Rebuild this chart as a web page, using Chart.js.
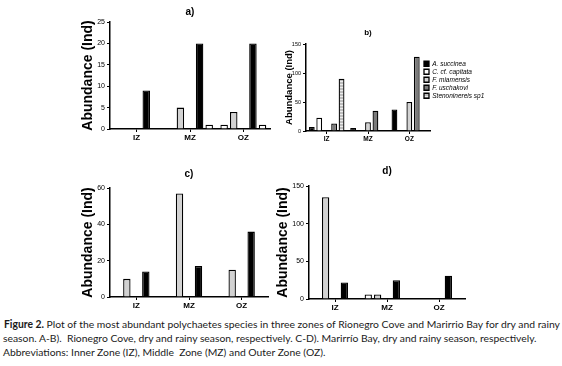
<!DOCTYPE html>
<html>
<head>
<meta charset="utf-8">
<script src="https://cdn.jsdelivr.net/npm/chart.js@4"></script>
<style>
  body { margin: 0; background: #fff; }
  #fig { position: relative; width: 562px; height: 366px; overflow: hidden; background: #fff; }
  #fig canvas { position: absolute; }
  .cap { position: absolute; left: 3px; font-family: Lato, sans-serif; font-size: 10.35px; line-height: 14px; white-space: pre; color: #1a1a1a; }
</style>
</head>
<body>
<div id="fig">
  <canvas id="chartA" width="240" height="150" style="left:40px;top:0px"></canvas>
  <canvas id="chartB" width="270" height="150" style="left:240px;top:0px"></canvas>
  <canvas id="chartC" width="240" height="165" style="left:40px;top:150px"></canvas>
  <canvas id="chartD" width="240" height="165" style="left:240px;top:150px"></canvas>
  <div class="cap" style="top:317px;left:4px"><b>Figure 2.</b> Plot of the most abundant polychaetes species in three zones of Rionegro Cove and Marirrio Bay for dry and rainy</div>
  <div class="cap" style="top:331px">season. A-B).  Rionegro Cove, dry and rainy season, respectively. C-D). Marirrío Bay, dry and rainy season, respectively.</div>
  <div class="cap" style="top:345px">Abbreviations: Inner Zone (IZ), Middle  Zone (MZ) and Outer Zone (OZ).</div>
</div>
<script>
const zones = ['IZ', 'MZ', 'OZ'];
const species = ['A. succinea', 'C. cf. capitata', 'F. miamensis', 'F. uschakovi', 'Stenoninereis sp1'];

// a) Rionegro Cove, dry season
const aWhite = [0, 0, 1];
const aGray = [0, 5, 4];
const aEmpty = [0, 0, 0];
const aBlack = [9, 20, 20];
const aWhite2 = [0, 1, 1];
const aTicks = [0, 5, 10, 15, 20, 25];

// b) Rionegro Cove, rainy season
const bSuccinea = [7, 5, 37];
const bCapitata = [23, 0, 0];
const bMiamensis = [0, 15, 50];
const bUschakovi = [13, 35, 128];
const bStenoninereis = [90, 0, 0];
const bTicks = [0, 50, 100, 150];

// c) Marirrio Bay, dry season
const cWhite = [0, 0, 0];
const cGray = [10, 57, 15];
const cEmpty = [0, 0, 0];
const cBlack = [14, 17, 36];
const cWhite2 = [0, 0, 0];
const cTicks = [0, 20, 40, 60];

// d) Marirrio Bay, rainy season
const dWhite = [0, 6, 0];
const dGray = [135, 6, 0];
const dEmpty = [0, 0, 0];
const dBlack = [22, 25, 31];
const dWhite2 = [0, 0, 0];
const dTicks = [0, 50, 100, 150];

const FONT = 'Liberation Sans';

// striped fill for Stenoninereis
function stripes() {
    const c = document.createElement('canvas');
    c.width = 4; c.height = 3;
    const g = c.getContext('2d');
    g.fillStyle = '#bdbdbd';
    g.fillRect(0, 0, 4, 3);
    g.fillStyle = '#ececec';
    g.fillRect(0, 0, 4, 1);
    return g.createPattern(c, 'repeat');
}

function barSet(label, data, color) {
    return {
        label: label,
        data: data,
        backgroundColor: color,
        borderColor: '#000',
        borderWidth: 1.3,
        categoryPercentage: 0.9,
        barPercentage: 0.78
    };
}

// puts the legend where it sits in the figure (over the plot edge)
const legendSpot = {
    id: 'legendSpot',
    afterLayout(chart, args, opts) {
        const lg = chart.legend;
        if (!lg || opts.x === undefined) return;
        lg.left = opts.x; lg.right = opts.x + lg.width;
        lg.top = opts.y; lg.bottom = opts.y + lg.height;
    }
};

function panel(id, o) {
    return new Chart(document.getElementById(id), {
        type: 'bar',
        data: { labels: zones, datasets: o.sets },
        options: {
            responsive: false,
            animation: false,
            layout: { padding: { left: 0, top: 0, right: o.padRight, bottom: 0 } },
            plugins: {
                legend: o.legend || { display: false },
                tooltip: { enabled: false },
                legendSpot: o.legendAt || {},
                title: {
                    display: true,
                    text: o.title,
                    fullSize: false,
                    color: '#000',
                    font: { family: FONT, size: o.titleSize, weight: 'bold' },
                    padding: o.titlePad
                }
            },
            scales: {
                x: {
                    afterFit: s => { s.height = o.xHeight; },
                    grid: { display: true, offset: false, drawOnChartArea: false, tickLength: 3, color: '#000', lineWidth: 1 },
                    border: { color: '#000', width: 1.5 },
                    ticks: { color: '#000', padding: 1, font: { family: FONT, size: o.xSize, weight: 'bold' } }
                },
                y: {
                    min: 0,
                    max: o.ticks[o.ticks.length - 1],
                    afterFit: s => { s.width = o.yWidth; },
                    afterBuildTicks: s => { s.ticks = o.ticks.map(v => ({ value: v })); },
                    grid: { display: true, drawOnChartArea: false, tickLength: 3, color: '#000', lineWidth: 1 },
                    border: { color: '#000', width: 1.5 },
                    ticks: { color: '#000', padding: 2, autoSkip: false, font: { family: FONT, size: o.ySize } },
                    title: {
                        display: true,
                        text: 'Abundance (Ind)',
                        color: '#000',
                        font: { family: FONT, size: o.yTitleSize, weight: 'bold' },
                        padding: { top: o.yTitlePad, bottom: 0 }
                    }
                }
            }
        },
        plugins: [legendSpot]
    });
}

const WHITE = '#ffffff', GRAY = '#d2d2d2', DARK = '#7a7a7a', BLACK = '#000000';

panel('chartA', {
    title: 'a)', titleSize: 10, titlePad: { top: 6, bottom: 4 },
    padRight: 10, yWidth: 70, xHeight: 21,
    ticks: aTicks, xSize: 8, ySize: 7, yTitleSize: 14, yTitlePad: 40,
    sets: [
        barSet('s1', aWhite, WHITE),
        barSet('s2', aGray, GRAY),
        barSet('s3', aEmpty, GRAY),
        barSet('s4', aBlack, BLACK),
        barSet('s5', aWhite2, WHITE)
    ]
});

panel('chartB', {
    title: 'b)', titleSize: 8, titlePad: { top: 28, bottom: 6.4 },
    padRight: 80, yWidth: 66, xHeight: 19,
    ticks: bTicks, xSize: 6.5, ySize: 5.5, yTitleSize: 9.5, yTitlePad: 44,
    legend: {
        display: true,
        position: 'chartArea',
        align: 'start',
        labels: { boxWidth: 5, boxHeight: 5, padding: 1.5, color: '#000', font: { family: FONT, size: 6.5, style: 'italic' } }
    },
    legendAt: { x: 182.5, y: 59 },
    sets: [
        barSet(species[0], bSuccinea, BLACK),
        barSet(species[1], bCapitata, WHITE),
        barSet(species[2], bMiamensis, GRAY),
        barSet(species[3], bUschakovi, DARK),
        barSet(species[4], bStenoninereis, stripes())
    ]
});

panel('chartC', {
    title: 'c)', titleSize: 10, titlePad: { top: 18, bottom: 8 },
    padRight: 12, yWidth: 70, xHeight: 18,
    ticks: cTicks, xSize: 8, ySize: 7, yTitleSize: 14, yTitlePad: 40,
    sets: [
        barSet('s1', cWhite, WHITE),
        barSet('s2', cGray, GRAY),
        barSet('s3', cEmpty, GRAY),
        barSet('s4', cBlack, BLACK),
        barSet('s5', cWhite2, WHITE)
    ]
});

panel('chartD', {
    title: 'd)', titleSize: 10, titlePad: { top: 15, bottom: 9 },
    padRight: 15, yWidth: 69, xHeight: 16,
    ticks: dTicks, xSize: 8, ySize: 7, yTitleSize: 14, yTitlePad: 35,
    sets: [
        barSet('s1', dWhite, WHITE),
        barSet('s2', dGray, GRAY),
        barSet('s3', dEmpty, GRAY),
        barSet('s4', dBlack, BLACK),
        barSet('s5', dWhite2, WHITE)
    ]
});
</script>
</body>
</html>
